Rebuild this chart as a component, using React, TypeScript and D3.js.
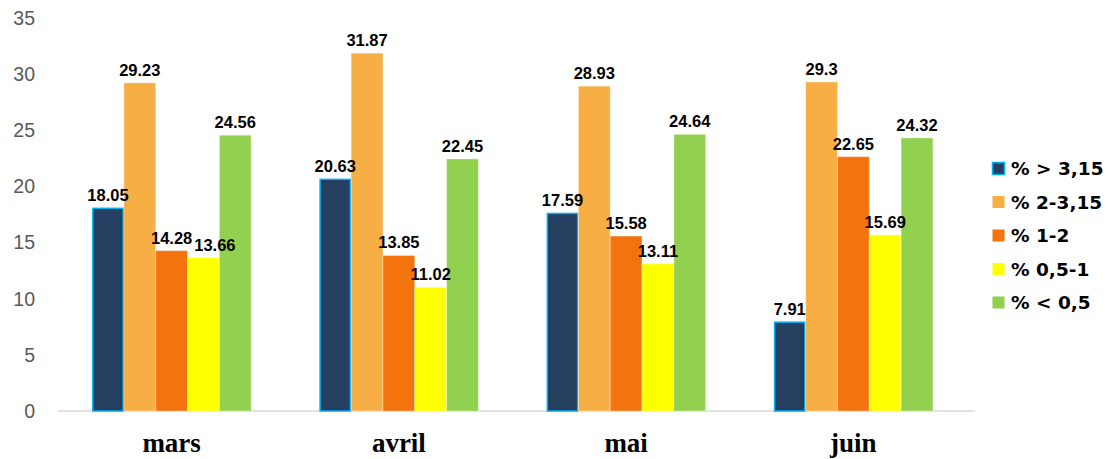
import React from "react";
import * as d3 from "d3";

const months = ["mars", "avril", "mai", "juin"];
const seriesNames = ["% > 3,15", "% 2-3,15", "% 1-2", "% 0,5-1", "% < 0,5"];
const seriesColors = ["#243F60", "#F6AE45", "#F3730F", "#FFFF00", "#92D050"];
const gt315 = [18.05, 20.63, 17.59, 7.91];
const from2to315 = [29.23, 31.87, 28.93, 29.3];
const from1to2 = [14.28, 13.85, 15.58, 22.65];
const from05to1 = [13.66, 11.02, 13.11, 15.69];
const lt05 = [24.56, 22.45, 24.64, 24.32];
const yTicks = [0, 5, 10, 15, 20, 25, 30, 35];

const seriesValues = [gt315, from2to315, from1to2, from05to1, lt05];

const W = 1108;
const H = 459;
const plot = { left: 58, right: 967, top: 18, bottom: 411 };

const labelFont = "'Liberation Sans', Arial, sans-serif";
const labelSize = 16.5;

function textWidth(s: string): number {
  let w = 0;
  for (const ch of s) w += ch === "." ? 0.278 : 0.556;
  return w * labelSize;
}

export default function App() {
  const x0 = d3
    .scaleBand<string>()
    .domain(months)
    .range([plot.left, plot.right])
    .paddingInner(0.3)
    .paddingOuter(0.15);
  const x1 = d3
    .scaleBand<number>()
    .domain(d3.range(seriesNames.length))
    .range([0, x0.bandwidth()]);
  const y = d3.scaleLinear().domain([0, 35]).range([plot.bottom, plot.top]);

  // Label layout per month: centred above each bar, nudged right when it collides with the previous one
  const labels: { key: string; x: number; y: number; text: string }[] = [];
  months.forEach((m, mi) => {
    const placed: { x0: number; x1: number; y0: number; y1: number }[] = [];
    seriesValues.forEach((vals, si) => {
      const v = vals[mi];
      const text = String(v);
      const w = textWidth(text);
      let cx = (x0(m) as number) + (x1(si) as number) + x1.bandwidth() / 2;
      const base = y(v) - 7;
      const box = { x0: cx - w / 2, x1: cx + w / 2, y0: base - 12, y1: base };
      const prev = placed[placed.length - 1];
      if (prev && box.x0 < prev.x1 + 2 && box.y1 > prev.y0 && box.y0 < prev.y1) {
        const shift = prev.x1 + 2 - box.x0;
        cx += shift;
        box.x0 += shift;
        box.x1 += shift;
      }
      placed.push(box);
      labels.push({ key: `${mi}-${si}`, x: cx, y: base, text });
    });
  });

  return (
    <svg
      width={W}
      height={H}
      viewBox={`0 0 ${W} ${H}`}
      style={{ position: "absolute", left: 0, top: 0, background: "#fff" }}
    >
      {/* y tick labels */}
      <g fontFamily={labelFont} fontSize={19.5} fill="#595959" textAnchor="end">
        {yTicks.map((t) => (
          <text key={t} x={35} y={y(t)} dy="0.35em">
            {t}
          </text>
        ))}
      </g>

      {/* baseline */}
      <line
        x1={plot.left}
        x2={975}
        y1={y(0)}
        y2={y(0)}
        stroke="#D9D9D9"
        strokeWidth={1.5}
      />

      {/* bars */}
      {months.map((m, mi) => (
        <g key={m} transform={`translate(${x0(m)},0)`}>
          {seriesValues.map((vals, si) => {
            const v = vals[mi];
            return (
              <rect
                key={si}
                x={(x1(si) as number) + (si === 0 ? 0.75 : 0)}
                y={y(v)}
                width={x1.bandwidth() - (si === 0 ? 1.5 : 0)}
                height={y(0) - y(v)}
                fill={seriesColors[si]}
                stroke={si === 0 ? "#00B0F0" : "#ffffff"}
                strokeOpacity={si === 0 ? 1 : 0.35}
                strokeWidth={si === 0 ? 1.5 : 1}
              />
            );
          })}
        </g>
      ))}

      {/* value labels */}
      <g fontFamily={labelFont} fontSize={labelSize} fontWeight="bold" fill="#000" textAnchor="middle">
        {labels.map((l) => (
          <text key={l.key} x={l.x} y={l.y}>
            {l.text}
          </text>
        ))}
      </g>

      {/* month labels */}
      <g
        fontFamily="'Liberation Serif', 'Times New Roman', serif"
        fontSize={27}
        fontWeight="bold"
        fill="#000"
        textAnchor="middle"
      >
        {months.map((m) => (
          <text key={m} x={(x0(m) as number) + x0.bandwidth() / 2} y={452}>
            {m}
          </text>
        ))}
      </g>

      {/* legend */}
      <g fontFamily="'DejaVu Sans', sans-serif" fontSize={18.5} fontWeight="bold" fill="#000">
        {seriesNames.map((name, i) => {
          const cy = 168.5 + i * 33.5;
          return (
            <g key={name}>
              <rect
                x={992.5}
                y={cy - 6}
                width={12}
                height={12}
                fill={seriesColors[i]}
                stroke={i === 0 ? "#00B0F0" : "none"}
                strokeWidth={1.5}
              />
              <text x={1011} y={cy} dy="0.36em">
                {name}
              </text>
            </g>
          );
        })}
      </g>
    </svg>
  );
}
